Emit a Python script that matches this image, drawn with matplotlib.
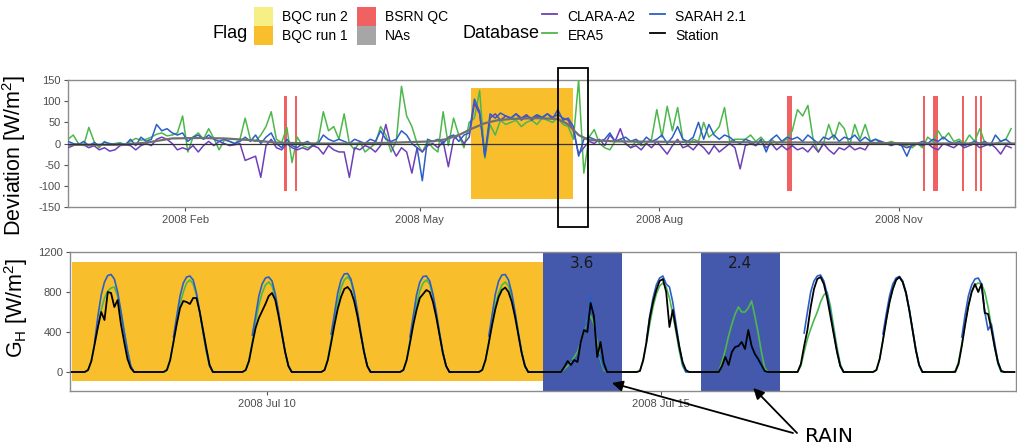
import numpy as np
import pandas as pd
import matplotlib
matplotlib.use("Agg")
import matplotlib.pyplot as plt
import matplotlib.dates as mdates
from matplotlib.patches import Patch, Rectangle, ConnectionPatch
from matplotlib.lines import Line2D

plt.rcParams['font.family'] = ['Liberation Sans', 'DejaVu Sans']
plt.rcParams['mathtext.fontset'] = 'custom'
plt.rcParams['mathtext.rm'] = 'Liberation Sans'
plt.rcParams['mathtext.it'] = 'Liberation Sans:italic'
plt.rcParams['axes.unicode_minus'] = False

# ---------------- data: daily deviation (every 2nd day from 2007-12-18) ----------------
dev_start = '2007-12-18'
dev_day = np.arange(0, 364, 2)

dev_era5 = [10, 20, 0, -5, 38, 5, -10, 5, -3, 0,
            2, -3, 5, 12, 8, 10, 15, 22, 25, 18,
            20, 25, 65, -20, 15, 25, 10, 35, 12, -15,
            8, 5, 0, 10, 60, 10, 5, 20, 40, 75,
            10, 2, 38, -45, 15, -5, -10, -5, 5, 75,
            30, 40, 10, 70, 0, -15, 5, -20, -10, 0,
            40, 20, -20, 5, 135, 65, 40, 0, -20, 5,
            -10, -20, 75, -5, 60, 20, -10, 50, 60, 125,
            -35, 45, 20, 55, 45, 50, 55, 40, 50, 55,
            45, 60, 55, 50, 60, 45, 40, 10, 150, -70,
            15, 33, 0, -10, -15, 5, 10, 0, -10, 5,
            -5, 0, 10, 80, 15, 88, 30, 85, 10, -5,
            10, 5, 50, 15, 25, 40, 85, 5, 10, 10,
            10, 20, 5, 15, 0, 10, 0, 5, 10, 30,
            80, 65, 90, 10, -20, 0, 45, 10, 50, 35,
            -5, 45, 10, 45, 5, 10, 0, 0, 5, 0,
            -5, -5, -10, 0, -10, 15, 5, 30, 10, 25,
            5, 10, 0, 20, 5, 35, 0, -5, 0, 5,
            10, 35]

dev_sarah = [5, 0, -3, 5, -5, 2, -5, 3, 0, -2,
             0, -3, 10, -5, 15, 5, 10, 45, 30, 35,
             25, 20, 25, 5, 15, 20, 10, 20, 10, 5,
             10, 5, 0, 5, 15, 5, 20, 0, 15, 25,
             0, -10, 10, -5, -10, 0, 5, -5, 0, 20,
             10, 5, 10, 5, 0, 10, 5, 0, 10, 5,
             30, 10, 5, 10, 30, 20, 0, -10, -88, 10,
             5, 10, 0, 15, 20, 5, 20, 25, 105, 75,
             -30, 70, 60, 72, 65, 60, 70, 55, 65, 60,
             68, 62, 70, 58, 80, 55, 60, 40, -30, 10,
             15, 10, 5, 10, 25, 5, 10, 15, 5, 10,
             0, 15, 5, 10, 20, 0, 15, 40, 10, 5,
             15, 50, 10, 45, 20, 10, 20, 15, 5, 0,
             10, 5, -5, 10, -20, 10, 20, 5, 15, 10,
             15, 5, 20, 10, 0, 15, 10, 20, 5, 15,
             10, 20, 5, 15, 5, 10, 5, 0, 0, 0,
             -5, -30, 0, 0, 5, 0, 10, 5, 15, 5,
             0, 5, -5, 0, 5, 0, 5, -5, 20, 5,
             10, 0]

dev_clara = [-10, -5, 0, -3, -10, -5, -15, -10, -18, -15,
             -5, -3, -5, -15, -5, 0, -5, 10, 15, 10,
             0, -15, -10, -15, -5, -20, -5, 5, -5, 5,
             0, -5, -3, 0, -40, -35, -30, -80, -5, 10,
             -10, -15, 0, -10, -15, -10, -15, -5, -10, -25,
             -5, -15, -20, -20, -80, -10, -15, -5, -10, -20,
             -5, 45, -5, -30, -10, -20, -70, -10, -20, -5,
             0, -10, 5, -55, 10, 20, 0, 15, 95, 70,
             -30, 60, 70, 55, 65, 60, 70, 60, 68, 55,
             65, 60, 70, 62, 68, 60, 55, 30, -25, -10,
             5, 0, 10, -5, 20, 5, 35, 0, -10, -5,
             -15, 0, -10, 5, -10, -25, -5, 10, -10, -5,
             -15, 0, -10, -25, -5, -20, -10, 0, -10, -60,
             -5, 0, -5, 5, -10, 0, -15, -5, -15, -5,
             -15, -10, -20, -5, -20, 0, -15, -25, -10, -15,
             -5, -15, -10, -15, 5, 0, 5, 0, -5, 0,
             -5, -10, -5, 0, -5, 0, -10, -15, 0, -5,
             -10, 0, -10, -5, 0, -10, -5, 0, -10, -25,
             -5, -10]

# smoothed trend
smooth_day = [0, 20, 30, 40, 50, 60, 70, 80, 95, 110, 125, 140, 145, 150, 155,
              160, 165, 170, 180, 188, 192, 196, 200, 210, 230, 260, 300, 330, 364]
smooth_val = [-3, -3, 2, 12, 13, 12, 8, 2, 0, 0, 2, 5, 10, 20, 35,
              48, 55, 58, 60, 58, 45, 20, 8, 5, 4, 3, 2, 0, 0]

# flags in the yearly panel
bqc1_period = ('2008-05-20 12:00', '2008-06-29 00:00')
bsrn_qc_start = ['2008-03-10', '2008-03-14', '2008-09-19', '2008-11-10',
                 '2008-11-14', '2008-11-25', '2008-11-30', '2008-12-02']
bsrn_qc_days = [1, 1, 2, 1, 2, 1, 1, 1]

# ---------------- data: hourly irradiance, 12 days ----------------
day_peaks = pd.date_range('2008-07-08', periods=12, freq='D')
hours_day = np.arange(-7.5, 9.0, 1.0)   # daylight hours around the peak
hours_am = np.arange(-11.5, -8.0, 1.0)  # night before
hours_pm = np.arange(9.5, 12.0, 1.0)    # night after

station_days = [
    [0, 20, 110, 280, 450, 600, 520, 800, 790, 650, 720, 480, 300, 130, 40, 0, 0],
    [0, 20, 120, 300, 480, 640, 710, 700, 680, 740, 740, 600, 420, 240, 70, 0, 0],
    [0, 20, 110, 280, 440, 540, 610, 680, 760, 790, 720, 560, 380, 200, 60, 0, 0],
    [0, 20, 120, 290, 470, 630, 750, 830, 850, 810, 710, 560, 380, 200, 60, 0, 0],
    [0, 20, 120, 290, 470, 620, 740, 780, 820, 800, 700, 550, 370, 190, 60, 0, 0],
    [0, 20, 120, 290, 470, 630, 750, 820, 845, 800, 700, 550, 370, 190, 60, 0, 0],
    [0, 0, 50, 110, 70, 120, 100, 300, 420, 400, 690, 560, 150, 300, 90, 0, 0],
    [0, 10, 120, 300, 540, 700, 820, 910, 930, 800, 450, 620, 430, 250, 100, 20, 0],
    [0, 0, 60, 150, 70, 200, 250, 260, 300, 230, 420, 260, 180, 130, 70, 10, 0],
    [0, 0, 80, 260, 420, 650, 830, 930, 950, 880, 740, 560, 380, 200, 60, 0, 0],
    [0, 20, 130, 320, 520, 700, 830, 920, 950, 900, 790, 620, 420, 220, 70, 0, 0],
    [0, 0, 80, 260, 470, 660, 800, 880, 800, 880, 590, 580, 430, 250, 100, 10, 0],
]

era5_days = [
    [0, 20, 110, 280, 460, 620, 740, 810, 840, 850, 760, 600, 410, 220, 60, 0, 0],
    [0, 20, 120, 300, 500, 680, 800, 890, 920, 880, 770, 600, 400, 210, 60, 0, 0],
    [0, 20, 120, 300, 500, 670, 790, 870, 900, 860, 750, 580, 390, 200, 60, 0, 0],
    [0, 20, 130, 320, 520, 700, 840, 920, 950, 910, 780, 600, 400, 210, 60, 0, 0],
    [0, 20, 120, 310, 510, 680, 810, 890, 920, 880, 760, 590, 390, 200, 60, 0, 0],
    [0, 20, 120, 300, 500, 670, 790, 870, 900, 860, 750, 580, 390, 200, 60, 0, 0],
    [0, 0, 30, 60, 100, 150, 200, 300, 420, 520, 560, 480, 300, 120, 20, 0, 0],
    [0, 10, 110, 290, 480, 650, 780, 860, 890, 850, 740, 580, 400, 210, 60, 0, 0],
    [0, 0, 100, 220, 360, 480, 580, 650, 600, 600, 640, 710, 560, 390, 200, 40, 0],
    [0, 0, 60, 200, 330, 430, 520, 600, 700, 770, 800, 660, 450, 250, 80, 0, 0],
    [0, 20, 130, 320, 520, 700, 830, 920, 950, 900, 790, 620, 420, 220, 70, 0, 0],
    [0, 10, 100, 280, 480, 660, 800, 870, 890, 880, 800, 650, 460, 250, 80, 0, 0],
]

nan = np.nan
sarah_days = [
    [nan, nan, nan, 300, 560, 770, 900, 965, 975, 930, 800, 610, 400, 210, 60, 0, 0],
    [nan, nan, nan, 350, 560, 760, 890, 950, 960, 920, 790, 600, 400, 210, 60, 0, 0],
    [nan, nan, nan, 370, 560, 760, 880, 940, 950, 910, 780, 600, 390, 200, 60, 0, 0],
    [nan, nan, nan, 380, 580, 790, 920, 980, 985, 930, 800, 610, 400, 210, 60, 0, 0],
    [nan, nan, nan, 350, 560, 770, 900, 955, 960, 910, 780, 600, 390, 200, 60, 0, 0],
    [nan, nan, nan, 360, 570, 780, 910, 970, 975, 920, 790, 600, 390, 200, 60, 0, 0],
    [nan, nan, nan, 80, 120, 100, 150, 300, 450, 500, 760, 600, 200, 150, 40, 0, 0],
    [nan, nan, nan, 320, 560, 740, 870, 940, 960, 880, 850, 700, 480, 260, 80, 0, 0],
    [nan, nan, nan, 150, 100, 220, 240, 280, 300, 280, 320, 230, 160, 90, 30, 0, 0],
    [nan, nan, nan, 390, 600, 800, 910, 960, 970, 910, 780, 600, 400, 210, 60, 0, 0],
    [nan, nan, nan, 380, 580, 760, 880, 940, 955, 910, 800, 630, 430, 230, 70, 0, 0],
    [nan, nan, nan, 350, 570, 760, 870, 930, 940, 880, 600, 420, 480, 290, 100, 10, 0],
]

# flags in the zoomed panel
bqc1_zoom = ('2008-07-07 12:30', '2008-07-13 12:00')
rain_periods = [('2008-07-13 12:00', '2008-07-14 12:00'),
                ('2008-07-15 12:00', '2008-07-16 12:00')]
rain_mm = [3.6, 2.4]

# ---------------- colours ----------------
c_bqc2 = '#F5EF85'
c_bqc1 = '#F8BE2B'
c_bsrn = '#F06262'
c_na = '#A6A6A6'
c_rain = '#4459AC'
c_clara = '#6E3FB8'
c_era5 = '#4CB84C'
c_sarah = '#2B5FC7'
c_frame = '#8C8C8C'
c_tick = '#4D4D4D'


def full_series(days, night):
    parts = []
    for d in days:
        parts.append(np.r_[np.full(len(hours_am), night), d, np.full(len(hours_pm), night)])
    return np.concatenate(parts)


hours_all = np.r_[hours_am, hours_day, hours_pm]
t_zoom = (day_peaks.values[:, None] + pd.to_timedelta(hours_all, unit='h').values[None, :]).ravel()
station = full_series(station_days, 0.0)
era5 = full_series(era5_days, 0.0)
sarah = full_series(sarah_days, np.nan)

t0 = pd.Timestamp(dev_start)
dev_dates = t0 + pd.to_timedelta(dev_day, unit='D')
smooth_dates = t0 + pd.to_timedelta(smooth_day, unit='D')

# ---------------- figure ----------------
fig = plt.figure(figsize=(10.17, 4.47), dpi=100)
W, H = 1017.0, 447.0
ax1 = fig.add_axes([68 / W, 1 - 207 / H, 947 / W, 127 / H])
ax2 = fig.add_axes([70 / W, 1 - 391 / H, 946 / W, 139 / H])

for ax in (ax1, ax2):
    for sp in ax.spines.values():
        sp.set_color(c_frame)
        sp.set_linewidth(1.0)
    ax.tick_params(direction='out', length=3, width=0.8, color='#555555',
                   labelsize=8, labelcolor=c_tick, pad=2.5)

# --- top panel ---
ax1.axvspan(pd.Timestamp(bqc1_period[0]), pd.Timestamp(bqc1_period[1]),
            ymin=(150 - 130) / 300, ymax=(150 + 130) / 300, color=c_bqc1, lw=0, zorder=1)
qc_start = pd.to_datetime(bsrn_qc_start)
ax1.bar(qc_start, 224, bottom=-112, width=bsrn_qc_days, align='edge',
        color=c_bsrn, lw=0, zorder=2)
ax1.plot(dev_dates, dev_era5, color=c_era5, lw=1.1, zorder=3)
ax1.plot(dev_dates, dev_clara, color=c_clara, lw=1.1, zorder=4)
ax1.plot(dev_dates, dev_sarah, color=c_sarah, lw=1.1, zorder=5)
ax1.plot(smooth_dates, smooth_val, color='#707070', lw=1.6, zorder=6)
ax1.axhline(0, color='#333333', lw=0.9, zorder=7)

ax1.set_xlim(t0, t0 + pd.Timedelta(days=363.5))
ax1.set_ylim(-150, 150)
ax1.set_yticks([-150, -100, -50, 0, 50, 100, 150])
ax1.xaxis.set_major_locator(mdates.MonthLocator(bymonth=[2, 5, 8, 11]))
ax1.xaxis.set_major_formatter(mdates.DateFormatter('%Y %b'))
ax1.set_ylabel('Deviation [W/m$^2$]', fontsize=15.5)
ax1.yaxis.set_label_coords(-0.042, 0.41)

# zoom box on top panel
box_start = pd.Timestamp('2008-06-23 02:00')
box_end = pd.Timestamp('2008-07-04 14:00')
bx0, bx1 = mdates.date2num(box_start), mdates.date2num(box_end)
ax1.add_patch(Rectangle((bx0, -197), bx1 - bx0, 375, fill=False, ec='black',
                        lw=1.3, clip_on=False, zorder=10))

# --- bottom panel ---
ax2.axvspan(pd.Timestamp(bqc1_zoom[0]), pd.Timestamp(bqc1_zoom[1]),
            ymin=(190 - 90) / 1390, ymax=(190 + 1100) / 1390, color=c_bqc1, lw=0, zorder=1)
for (r0, r1), mm in zip(rain_periods, rain_mm):
    r0, r1 = pd.Timestamp(r0), pd.Timestamp(r1)
    ax2.axvspan(r0, r1, color=c_rain, lw=0, zorder=1)
    ax2.text(r0 + (r1 - r0) / 2, 1090, f'{mm}', ha='center', va='center',
             fontsize=11, family='DejaVu Sans', color='#1a1a1a', zorder=8)

ax2.plot(t_zoom, era5, color=c_era5, lw=1.2, zorder=3)
ax2.plot(t_zoom, sarah, color=c_sarah, lw=1.2, zorder=4)
ax2.plot(t_zoom, station, color='black', lw=1.3, zorder=5)

ax2.set_xlim(pd.Timestamp('2008-07-07 12:00'), pd.Timestamp('2008-07-19 12:00'))
ax2.set_ylim(-190, 1200)
ax2.set_yticks([0, 400, 800, 1200])
ax2.xaxis.set_major_locator(mdates.DayLocator(bymonthday=[10, 15]))
ax2.xaxis.set_major_formatter(mdates.DateFormatter('%Y %b %d'))
ax2.set_ylabel(r'G$_\mathrm{H}$ [W/m$^2$]', fontsize=15.5)
ax2.yaxis.set_label_coords(-0.042, 0.60)

# connectors from the zoom box to the lower panel
for xa, xb in ((bx0, 0.0), (bx1, 1.0)):
    con = ConnectionPatch(xyA=(xa, -197), coordsA='data', axesA=ax1,
                          xyB=(xb, 1.0), coordsB='axes fraction', axesB=ax2,
                          color='black', lw=1.2)
    fig.add_artist(con)

# RAIN annotation
fig.text(805 / W, 1 - 436 / H, 'RAIN', ha='left', va='center',
         fontsize=14.5, family='DejaVu Sans')
arrow_targets = [(pd.Timestamp('2008-07-14 09:00'), -110),
                 (pd.Timestamp('2008-07-16 04:00'), -160)]
arrow_starts = [(793 / W, 1 - 433 / H), (797 / W, 1 - 433 / H)]
for (tx, ty), st in zip(arrow_targets, arrow_starts):
    ax2.annotate('', xy=(mdates.date2num(tx), ty), xycoords='data',
                 xytext=st, textcoords='figure fraction',
                 arrowprops=dict(arrowstyle='-|>', color='black', lw=1.3,
                                 mutation_scale=16, shrinkA=0, shrinkB=0),
                 annotation_clip=False)

# ---------------- legends ----------------
flag_handles = [Patch(facecolor=c_bqc2), Patch(facecolor=c_bqc1),
                Patch(facecolor=c_bsrn), Patch(facecolor=c_na)]
flag_labels = ['BQC run 2', 'BQC run 1', 'BSRN QC', 'NAs']
fig.legend(flag_handles, flag_labels, ncol=2, loc='upper left',
           bbox_to_anchor=(254 / W, 1 - 7 / H), frameon=False, fontsize=10,
           handlelength=1.37, handleheight=1.73, labelspacing=0,
           handletextpad=0.65, columnspacing=0.65, borderpad=0, borderaxespad=0)

db_handles = [Line2D([], [], color=c_clara, lw=1.3), Line2D([], [], color=c_era5, lw=1.3),
              Line2D([], [], color=c_sarah, lw=1.3), Line2D([], [], color='black', lw=1.3)]
db_labels = ['CLARA-A2', 'ERA5', 'SARAH 2.1', 'Station']
fig.legend(db_handles, db_labels, ncol=2, loc='upper left',
           bbox_to_anchor=(542 / W, 1 - 7 / H), frameon=False, fontsize=10,
           handlelength=1.1, handleheight=1.73, labelspacing=0,
           handletextpad=0.75, columnspacing=1.0, borderpad=0, borderaxespad=0)

fig.text(213 / W, 1 - 33 / H, 'Flag', ha='left', va='center', fontsize=13)
fig.text(463 / W, 1 - 33 / H, 'Database', ha='left', va='center', fontsize=13)

fig.savefig('out.png', dpi=100)
